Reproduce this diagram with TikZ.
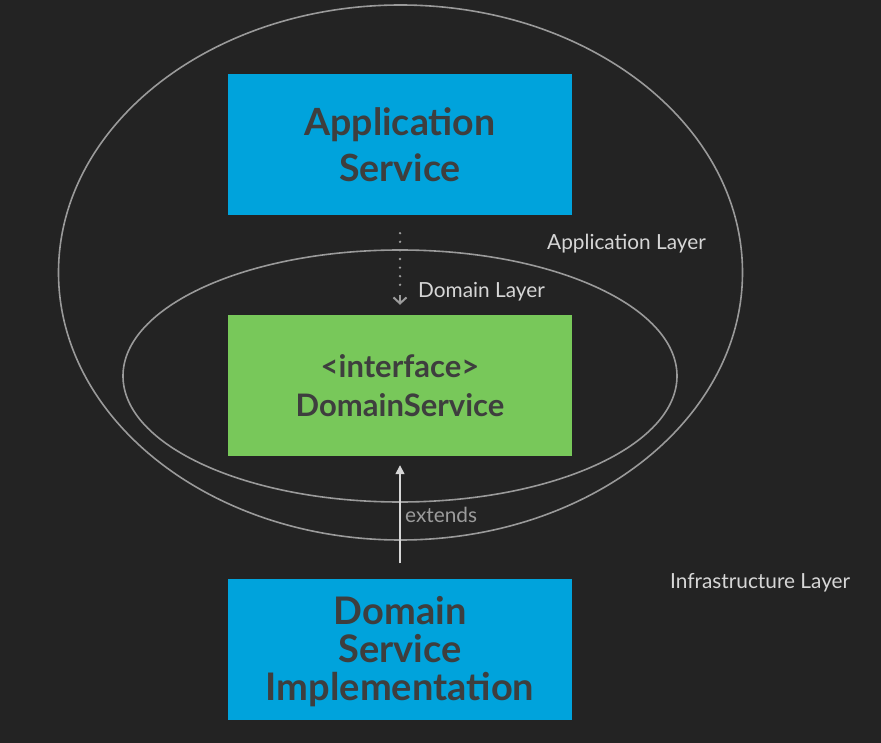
\documentclass[tikz,border=0pt]{standalone}
\usepackage{fontspec}
\setmainfont{Lato}
\usetikzlibrary{arrows.meta}
\definecolor{bg}{HTML}{232323}
\definecolor{boxblue}{HTML}{00A3DC}
\definecolor{boxgreen}{HTML}{78C85A}
\definecolor{boxtext}{HTML}{3E3E3E}
\definecolor{ringgray}{HTML}{9A9A9A}
\definecolor{labelgray}{HTML}{D6D6D6}
\definecolor{dimgray}{HTML}{9C9C9C}
\tikzset{
  layerbox/.style={minimum width=344pt, minimum height=141pt, inner sep=0pt, align=center,
    text=boxtext, font=\fontsize{38}{38}\selectfont\bfseries},
  ring/.style={draw=ringgray, line width=1.6pt},
  layerlabel/.style={anchor=west, inner sep=0pt, text=labelgray, font=\fontsize{20.8}{24}\selectfont},
}
\begin{document}
\begin{tikzpicture}[x=1pt,y=-1pt]
\fill[bg] (0,0) rectangle (881,743);
\useasboundingbox (0,0) rectangle (881,743);
\draw[ring] (400.5,272.5) ellipse [x radius=342, y radius=267.5];
\draw[ring] (400,376) ellipse [x radius=277, y radius=126];
\node[layerbox, fill=boxblue, font=\fontsize{37.5}{46}\selectfont\bfseries] (app) at (400,144.5) {Application\\Service};
\node[layerbox, fill=boxgreen, font=\fontsize{31}{39}\selectfont\bfseries] (dom) at (400,385.5) {<interface>\\DomainService};
\node[layerbox, fill=boxblue] (impl) at (400,649) {\raisebox{0pt}[\dimexpr\height+6pt\relax]{Domain}\\Service\\Implementation};
\node[layerlabel] (applbl) at (547,244) {Application Layer};
\node[layerlabel] (domlbl) at (418,292) {Domain Layer};
\node[layerlabel] (inflbl) at (670,583) {Infrastructure Layer};
\node[layerlabel, text=dimgray] (extlbl) at (405,515) {extends};
\draw[dimgray, line width=2.6pt, dash pattern=on 0pt off 8.6pt, line cap=round]
  ([yshift=-18pt]app.south) -- ([yshift=22pt]dom.north);
\draw[dimgray, line width=2pt, -{Straight Barb[length=6pt,width=13pt]}]
  ([yshift=20pt]dom.north) -- ([yshift=10pt]dom.north);
\draw[labelgray, line width=1.6pt, -{Triangle[length=9pt,width=9pt]}]
  ([yshift=15pt]impl.north) -- ([yshift=-9pt]dom.south);
\end{tikzpicture}
\end{document}
